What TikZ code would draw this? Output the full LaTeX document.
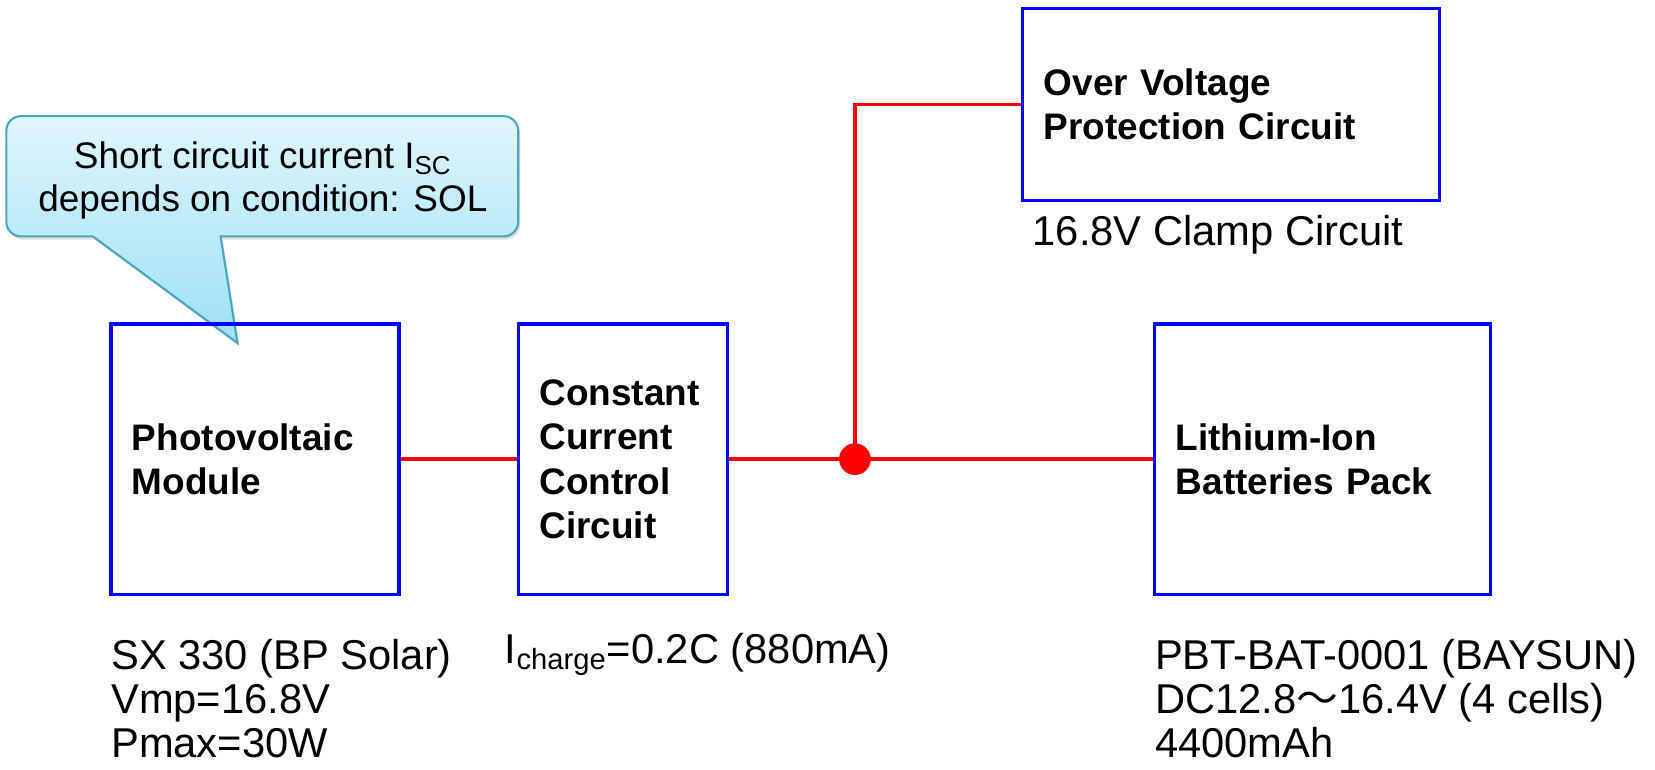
\documentclass[tikz,border=0pt]{standalone}
\usepackage{fontspec}
\setmainfont{Liberation Sans}
\newfontfamily\cjk{Noto Sans CJK JP}
\usetikzlibrary{shadows}
\definecolor{boxblue}{RGB}{0,0,255}
\definecolor{wirered}{RGB}{255,0,0}
\definecolor{calltop}{RGB}{224,246,253}
\definecolor{callbot}{RGB}{156,224,245}
\definecolor{callborder}{RGB}{75,166,192}
\begin{document}
\begin{tikzpicture}[x=0.5pt,y=-0.5pt,
  block/.style={draw=boxblue,line width=1.6pt,inner xsep=10pt,inner ysep=0pt,align=left,font=\fontsize{17.5}{21}\selectfont\bfseries},
  wire/.style={draw=wirered,line width=1.6pt},
  info/.style={inner sep=0pt,anchor=west,align=left,font=\fontsize{19.75}{21}\selectfont},
  calloutbox/.style={draw=callborder,line width=1pt,top color=calltop,bottom color=callbot,
    drop shadow={opacity=0.25,shadow xshift=1pt,shadow yshift=-1.5pt}},
]
\useasboundingbox (0,0) rectangle (1568,729);
% callout
\path[calloutbox] (20,110) -- (477,110) arc[start angle=90,end angle=0,radius=7pt]
  -- (491,210) arc[start angle=0,end angle=-90,radius=7pt]
  -- (209,224) -- (225,325) -- (88,224)
  -- (20,224) arc[start angle=-90,end angle=-180,radius=7pt]
  -- (6,124) arc[start angle=180,end angle=90,radius=7pt] -- cycle;
\node[font=\fontsize{17.5}{20}\selectfont,align=center,inner sep=0pt] (note) at (249,171)
  {Short circuit current I\textsubscript{SC}\\depends on condition: SOL};
% blocks
\node[block,minimum width=136.5pt,minimum height=128pt,text width=116.5pt] (pv) at (241.5,435) {Photovoltaic\\Module};
\node[block,minimum width=99pt,minimum height=128pt,text width=79pt] (ccc) at (590,435) {Constant\\Current\\Control\\Circuit};
\node[block,minimum width=197.5pt,minimum height=91pt,text width=177.5pt] (ovp) at (1166.5,99) {Over Voltage\\Protection Circuit};
\node[block,minimum width=159pt,minimum height=128pt,text width=139pt] (li) at (1253,435) {Lithium-Ion\\Batteries Pack};
% wires
\coordinate (j) at (810,435);
\draw[wire] (pv.east) -- (ccc.west);
\draw[wire] (ccc.east) -- (j) -- (li.west);
\draw[wire] (j) |- (ovp.west);
\node[circle,fill=wirered,minimum size=15pt,inner sep=0pt] (dot) at (j) {};
% labels
\node[info] (clamp) at (978,222) {16.8V Clamp Circuit};
\node[info] (pvinfo) at (105,662) {SX 330 (BP Solar)\\Vmp=16.8V\\Pmax=30W};
\node[info] (chg) at (478,620) {I\textsubscript{charge}=0.2C (880mA)};
\node[info] (bat) at (1094,662) {PBT-BAT-0001 (BAYSUN)\\DC12.8{\cjk ～}16.4V (4 cells)\\4400mAh};
\end{tikzpicture}
\end{document}
